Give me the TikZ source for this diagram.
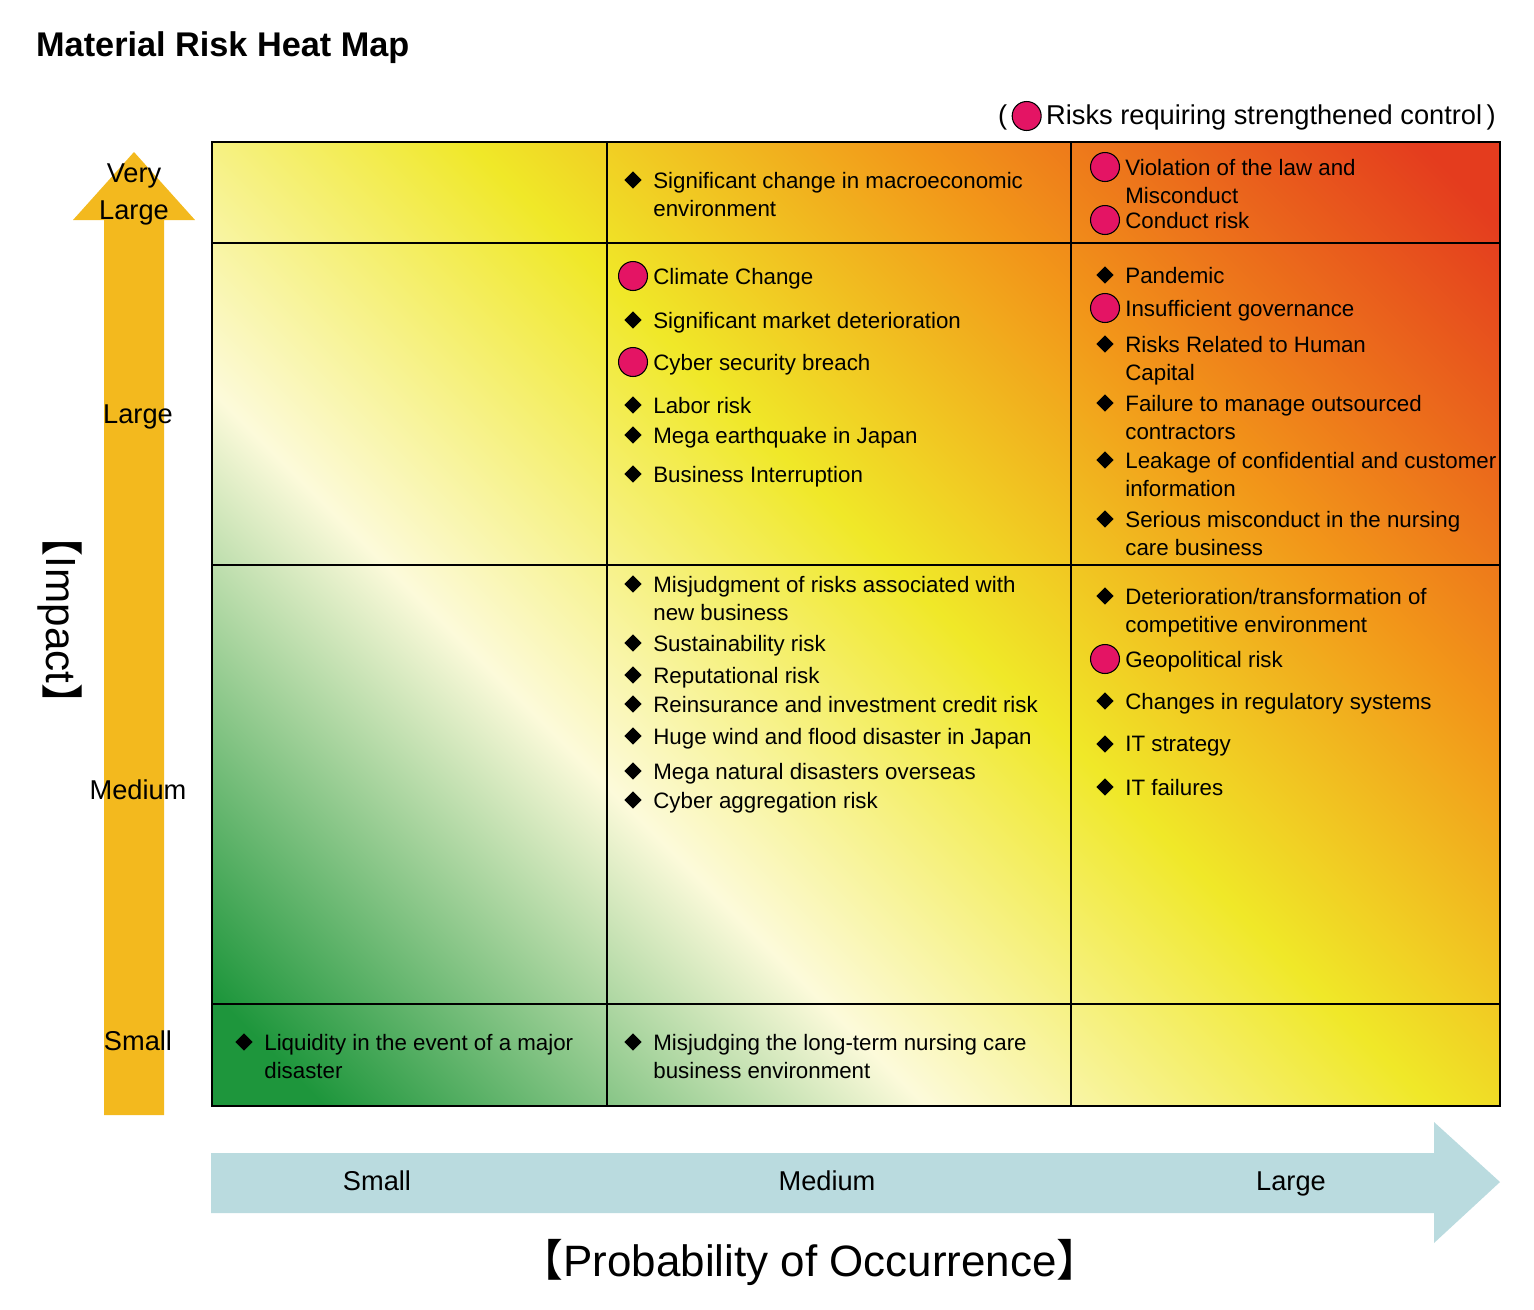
\documentclass[tikz,border=0pt]{standalone}
\usepackage{fontspec}
\setmainfont{Liberation Sans}
\newfontfamily\cjk{Noto Sans CJK JP}
\usetikzlibrary{shapes.geometric}

\definecolor{heatgreen}{RGB}{30,150,60}
\definecolor{heatpale}{RGB}{252,250,218}
\definecolor{heatyellow}{RGB}{240,232,40}
\definecolor{heatorange}{RGB}{242,150,25}
\definecolor{heatred}{RGB}{228,60,30}
\definecolor{impactarrow}{RGB}{243,185,30}
\definecolor{probarrow}{RGB}{186,219,223}
\definecolor{keyred}{RGB}{228,20,100}

\pgfdeclarehorizontalshading{heat}{100bp}{color(0bp)=(heatgreen); color(18bp)=(heatgreen);
  color(37bp)=(heatpale); color(53bp)=(heatyellow); color(67bp)=(heatorange); color(83bp)=(heatred); color(100bp)=(heatred)}

\newcommand{\ritem}[4]{%
  \node [#1mark] at (#2-20,#3) {};
  \node [itemtxt] at (#2,#3) {#4};}

\begin{document}
\begin{tikzpicture}
    [x=0.02cm, y=-0.02cm,
     dmark/.style={diamond, fill=black, inner sep=0pt, minimum size=10pt},
     cmark/.style={circle, fill=keyred, draw=black, line width=0.6pt, inner sep=0pt, minimum size=16.5pt},
     itemtxt/.style={anchor=north west, inner sep=0pt, yshift=4.6pt, align=left,
       font=\fontsize{12.7}{15.9}\selectfont},
     axlabel/.style={font=\fontsize{15.5}{21}\selectfont, align=center, text depth=0.25ex},
     gridline/.style={line width=1.2pt}]

    \useasboundingbox (0,0) rectangle (1534,1309);

    % title and key
    \node [anchor=west, font=\fontsize{19.5}{22}\selectfont\bfseries] (title) at (30,48) {Material Risk Heat Map};
    \node [anchor=east, font=\fontsize{15.5}{18}\selectfont] (key) at (1502,116)
      {(\,\tikz[baseline=-0.6ex]\node[circle, fill=keyred, draw=black, line width=0.6pt, minimum size=16.5pt, inner sep=0pt]{};\,Risks requiring strengthened control\,)};

    % heat map
    \shade [shading=heat, shading angle=45] (212,142) rectangle (1500,1106);
    \foreach \x in {607,1071} \draw [gridline] (\x,142) -- (\x,1106);
    \foreach \y in {243,565,1004} \draw [gridline] (212,\y) -- (1500,\y);
    \draw [gridline] (212,142) rectangle (1500,1106);

    % impact arrow
    \fill [impactarrow] (104,1115) -- (104,220) -- (73,220) -- (134,152) -- (195,220) -- (164,220) -- (164,1115) -- cycle;
    \node [axlabel] (vl) at (134,193) {Very\\Large};
    \node [axlabel] (il) at (138,415) {Large};
    \node [axlabel] (im) at (138,791) {Medium};
    \node [axlabel] (is) at (138,1042) {Small};
    \node [rotate=-90, font=\fontsize{24}{26}\selectfont] (impact) at (60,620) {{\cjk 【}Impact{\cjk 】}};

    % probability arrow
    \fill [probarrow] (211,1153) -- (1434,1153) -- (1434,1122) -- (1500,1182) -- (1434,1243) -- (1434,1213) -- (211,1213) -- cycle;
    \node [axlabel] (ps) at (377,1182) {Small};
    \node [axlabel] (pm) at (827,1182) {Medium};
    \node [axlabel] (pl) at (1291,1182) {Large};
    \node [font=\fontsize{25}{28}\selectfont] (prob) at (810,1262) {{\cjk 【}Probability of Occurrence{\cjk 】}};

    % small probability
    \ritem{d}{264}{1042}{Liquidity in the event of a major\\disaster}

    % medium probability
    \ritem{d}{653}{180}{Significant change in macroeconomic\\environment}
    \ritem{c}{653}{276}{Climate Change}
    \ritem{d}{653}{320}{Significant market deterioration}
    \ritem{c}{653}{362}{Cyber security breach}
    \ritem{d}{653}{405}{Labor risk}
    \ritem{d}{653}{435}{Mega earthquake in Japan}
    \ritem{d}{653}{474}{Business Interruption}
    \ritem{d}{653}{584}{Misjudgment of risks associated with\\new business}
    \ritem{d}{653}{643}{Sustainability risk}
    \ritem{d}{653}{675}{Reputational risk}
    \ritem{d}{653}{704}{Reinsurance and investment credit risk}
    \ritem{d}{653}{736}{Huge wind and flood disaster in Japan}
    \ritem{d}{653}{771}{Mega natural disasters overseas}
    \ritem{d}{653}{800}{Cyber aggregation risk}
    \ritem{d}{653}{1042}{Misjudging the long-term nursing care\\business environment}

    % large probability
    \ritem{c}{1125}{167}{Violation of the law and\\Misconduct}
    \ritem{c}{1125}{220}{Conduct risk}
    \ritem{d}{1125}{275}{Pandemic}
    \ritem{c}{1125}{308}{Insufficient governance}
    \ritem{d}{1125}{344}{Risks Related to Human\\Capital}
    \ritem{d}{1125}{403}{Failure to manage outsourced\\contractors}
    \ritem{d}{1125}{460}{Leakage of confidential and customer\\information}
    \ritem{d}{1125}{519}{Serious misconduct in the nursing\\care business}
    \ritem{d}{1125}{596}{Deterioration/transformation of\\competitive environment}
    \ritem{c}{1125}{659}{Geopolitical risk}
    \ritem{d}{1125}{701}{Changes in regulatory systems}
    \ritem{d}{1125}{744}{IT strategy}
    \ritem{d}{1125}{787}{IT failures}
\end{tikzpicture}
\end{document}
